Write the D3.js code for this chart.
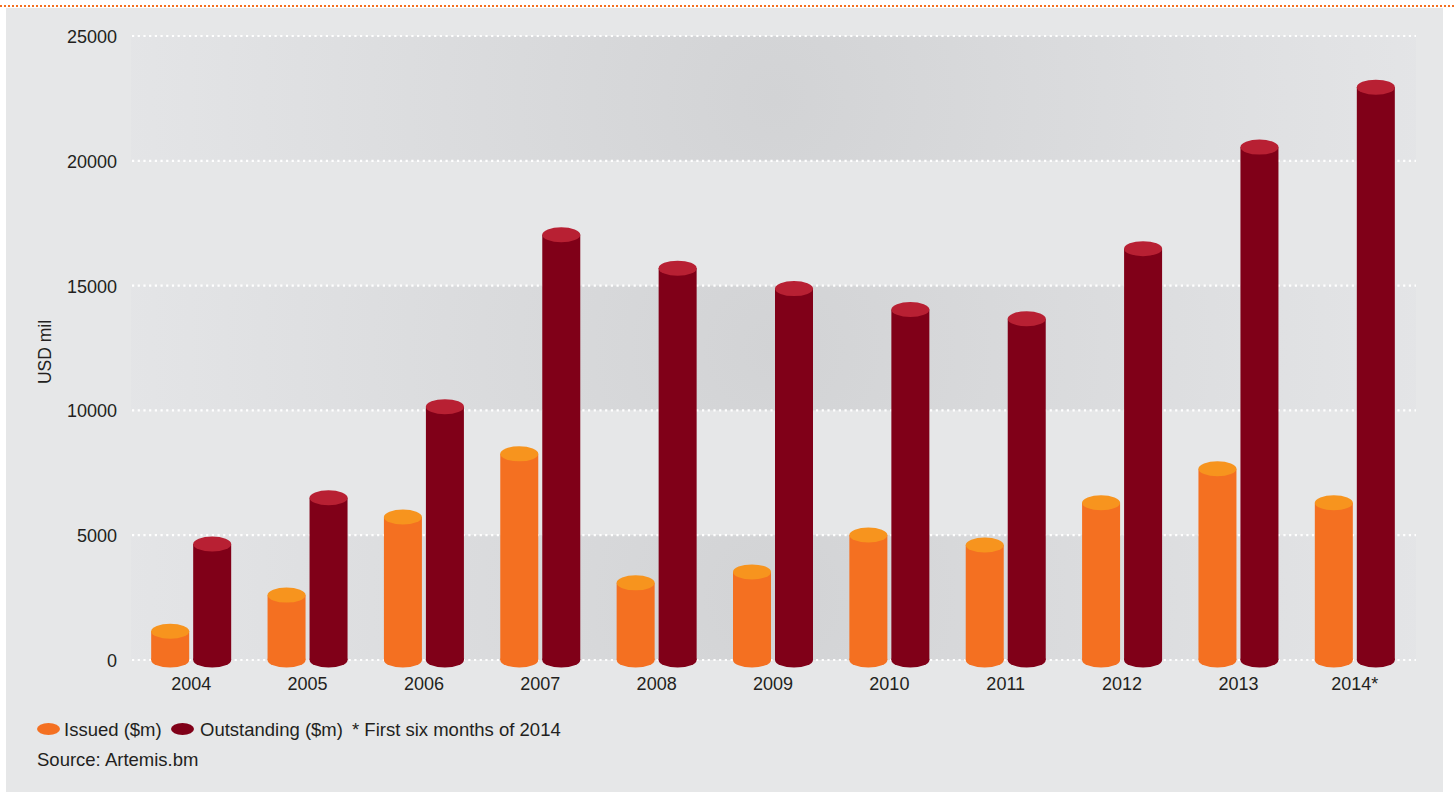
<!DOCTYPE html>
<html>
<head>
<meta charset="utf-8">
<script src="https://cdn.jsdelivr.net/npm/d3@7"></script>
<style>
  html, body { margin: 0; padding: 0; background: #ffffff; }
  svg { display: block; font-family: "Liberation Sans", Arial, Helvetica, sans-serif; }
</style>
</head>
<body>
<svg id="chart" width="1454" height="792"></svg>
<script>
const categories = ["2004","2005","2006","2007","2008","2009","2010","2011","2012","2013","2014*"];
const issued =      [1150, 2600, 5730, 8260, 3090, 3530, 5010, 4610, 6300, 7660, 6300];
const outstanding = [4650, 6500, 10150, 17040, 15700, 14880, 14040, 13670, 16480, 20550, 22950];
const yTicks = [0, 5000, 10000, 15000, 20000, 25000];
const seriesNames = ["Issued ($m)", "Outstanding ($m)"];
const footnote = "* First six months of 2014";
const sourceText = "Source: Artemis.bm";
const yTitle = "USD mil";

const colors = {
  issuedSide: "#f47021", issuedTop: "#f7941e",
  outSide: "#800018", outTop: "#b82033",
  text: "#231f20", bg: "#e6e7e8"
};

const svg = d3.select("#chart");
const W = 1454, H = 792;

// panel background
svg.append("rect").attr("x", 6).attr("y", 8).attr("width", 1437).attr("height", H - 8).attr("fill", colors.bg);

// top orange dotted rule
svg.append("line").attr("x1", 0).attr("x2", W).attr("y1", 6).attr("y2", 6)
  .attr("stroke", "#f47021").attr("stroke-width", 2).attr("stroke-dasharray", "2 2");

const x0 = d3.scaleBand().domain(categories).range([133, 1413]).paddingInner(0).paddingOuter(0);
const y = d3.scaleLinear().domain([0, 25000]).range([660, 36]);

const defs = svg.append("defs");
const plotL = 131, plotR = 1416;

// alternating shaded bands with radial gradient
const bands = [[20000, 25000], [10000, 15000], [0, 5000]];
bands.forEach((b, i) => {
  const cy = (y(b[0]) + y(b[1])) / 2;
  const g = defs.append("radialGradient").attr("id", "bandGrad" + i)
    .attr("gradientUnits", "userSpaceOnUse")
    .attr("cx", 775).attr("cy", cy).attr("r", 660);
  g.append("stop").attr("offset", 0).attr("stop-color", "#d2d3d5");
  g.append("stop").attr("offset", 1).attr("stop-color", "#e4e5e7");
  svg.append("rect").attr("x", plotL).attr("width", plotR - plotL)
    .attr("y", y(b[1])).attr("height", y(b[0]) - y(b[1]))
    .attr("fill", `url(#bandGrad${i})`);
});

// gridlines (dotted white)
svg.append("g").selectAll("line").data(yTicks).join("line")
  .attr("x1", plotL + 1).attr("x2", plotR)
  .attr("y1", d => y(d)).attr("y2", d => y(d))
  .attr("stroke", "#ffffff").attr("stroke-width", 2.2)
  .attr("stroke-dasharray", "2.2 3.5");

// y axis labels
const yAxis = d3.axisLeft(y).tickValues(yTicks).tickSize(0).tickPadding(0).tickFormat(d3.format("d"));
const gy = svg.append("g").attr("transform", "translate(117,0)").call(yAxis);
gy.select(".domain").remove();
gy.selectAll("text").attr("font-size", 18).attr("fill", colors.text)
  .attr("font-family", "'Liberation Sans', Arial, sans-serif").attr("dy", "0.36em");

// y title
svg.append("text").attr("transform", "translate(51,352) rotate(-90)")
  .attr("text-anchor", "middle").attr("font-size", 17.5).attr("fill", colors.text).text(yTitle);

// bars as cylinders
const barW = 38, gap = 4, ry = 7.5;
const series = [
  { vals: issued, side: colors.issuedSide, top: colors.issuedTop, off: -gap / 2 - barW },
  { vals: outstanding, side: colors.outSide, top: colors.outTop, off: gap / 2 }
];
const bars = svg.append("g");
series.forEach(s => {
  categories.forEach((c, i) => {
    const cx = x0(c) + x0.bandwidth() / 2 + s.off;
    const v = s.vals[i];
    const g = bars.append("g");
    g.append("ellipse").attr("cx", cx + barW / 2).attr("cy", y(0)).attr("rx", barW / 2).attr("ry", ry).attr("fill", s.side);
    g.append("rect").attr("x", cx).attr("width", barW).attr("y", y(v)).attr("height", y(0) - y(v)).attr("fill", s.side);
    g.append("ellipse").attr("cx", cx + barW / 2).attr("cy", y(v)).attr("rx", barW / 2).attr("ry", ry).attr("fill", s.top);
  });
});

// x axis labels
const xAxis = d3.axisBottom(x0).tickSize(0).tickPadding(0);
const gx = svg.append("g").attr("transform", "translate(0,690)").call(xAxis);
gx.select(".domain").remove();
gx.selectAll("text").attr("font-size", 18).attr("fill", colors.text)
  .attr("font-family", "'Liberation Sans', Arial, sans-serif").attr("dy", 0);

// legend
const legend = svg.append("g");
legend.append("ellipse").attr("cx", 48.5).attr("cy", 729).attr("rx", 11.5).attr("ry", 6).attr("fill", colors.issuedSide);
legend.append("text").attr("x", 64).attr("y", 736).attr("font-size", 18.5).attr("fill", colors.text).text(seriesNames[0]);
legend.append("ellipse").attr("cx", 182.5).attr("cy", 729).attr("rx", 11.5).attr("ry", 6).attr("fill", colors.outSide);
legend.append("text").attr("x", 200).attr("y", 736).attr("font-size", 18.5).attr("fill", colors.text).text(seriesNames[1]);
legend.append("text").attr("x", 352).attr("y", 736).attr("font-size", 18.5).attr("fill", colors.text).text(footnote);

svg.append("text").attr("x", 37).attr("y", 766).attr("font-size", 18.5).attr("fill", colors.text).text(sourceText);
</script>
</body>
</html>
